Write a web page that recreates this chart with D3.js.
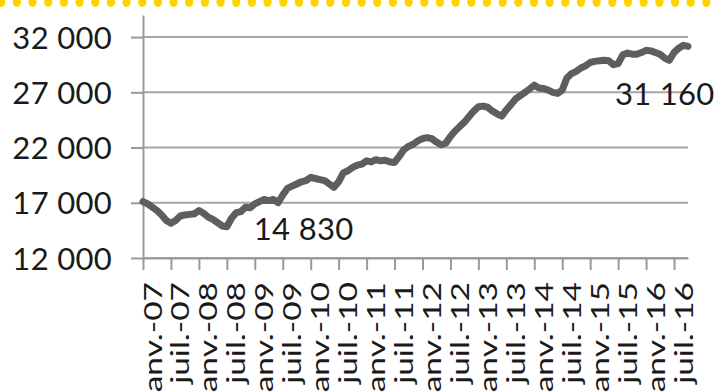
<!DOCTYPE html>
<html>
<head>
<meta charset="utf-8">
<script src="https://cdn.jsdelivr.net/npm/d3@7/dist/d3.min.js"></script>
<style>
  html, body { margin: 0; padding: 0; background: #ffffff; }
  svg { display: block; }
  text { font-family: Lato, "Open Sans", "Liberation Sans", sans-serif; fill: #1a1a1a; }
</style>
</head>
<body>
<svg id="chart" width="717" height="392"></svg>
<script>
// ---- data (monthly, janv. 2007 -> oct. 2016) ----
const startYear = 2007;
const values = [
  17100, 16900, 16600, 16300, 15900, 15400, 15150, 15400, 15800, 15900, 15950, 16000,
  16300, 16050, 15700, 15500, 15200, 14900, 14830, 15600, 16100, 16200, 16600, 16550,
  16900, 17100, 17300, 17200, 17300, 17000, 17700, 18300, 18500, 18700, 18900, 19000,
  19300, 19200, 19100, 19000, 18700, 18400, 18900, 19700, 19900, 20200, 20400, 20500,
  20800, 20700, 20900, 20800, 20850, 20700, 20650, 21200, 21800, 22100, 22300, 22600,
  22800, 22900, 22800, 22500, 22250, 22400, 23000, 23500, 23900, 24300, 24800, 25300,
  25700, 25750, 25650, 25300, 25050, 24850, 25400, 25900, 26400, 26700, 27000, 27300,
  27650, 27400, 27350, 27200, 27000, 26900, 27200, 28300, 28700, 28900, 29200, 29400,
  29700, 29800, 29850, 29900, 29850, 29500, 29600, 30400, 30550, 30450, 30450, 30600,
  30800, 30750, 30600, 30450, 30100, 29900, 30600, 31000, 31250, 31160
];
const xTickLabels = [
  "janv.-07", "juil.-07", "janv.-08", "juil.-08", "janv.-09", "juil.-09",
  "janv.-10", "juil.-10", "janv.-11", "juil.-11", "janv.-12", "juil.-12",
  "janv.-13", "juil.-13", "janv.-14", "juil.-14", "janv.-15", "juil.-15",
  "janv.-16", "juil.-16"
];
const yTicks = [12000, 17000, 22000, 27000, 32000];
const yDomain = [12000, 34000];
const dataLabels = [
  { index: 18, text: "14 830" },
  { index: 117, text: "31 160" }
];

// ---- layout ----
const svg = d3.select("#chart");
const pLeft = 143, pRight = 688, pTop = 15, pBottom = 258;

const x = d3.scaleLinear().domain([0, values.length - 1]).range([pLeft, pRight]);
const y = d3.scaleLinear().domain(yDomain).range([pBottom, pTop]);

const fr = d3.formatLocale({ decimal: ",", thousands: " ", grouping: [3], currency: ["", " €"] });
const fmt = fr.format(",.0f");

// top yellow dotted border
const dotsX = d3.range(1.2, 717 + 8, 15.67);
svg.append("g").selectAll("ellipse").data(dotsX).join("ellipse")
  .attr("cx", d => d).attr("cy", 2.2).attr("rx", 4.1).attr("ry", 4.8)
  .attr("fill", "#ffd200");

// gridlines
svg.append("g").selectAll("line").data(yTicks).join("line")
  .attr("x1", pLeft).attr("x2", pRight)
  .attr("y1", d => y(d)).attr("y2", d => y(d))
  .attr("stroke", "#a6a6a6").attr("stroke-width", 2);

// y axis
const yAxis = svg.append("g").attr("transform", `translate(${pLeft},0)`)
  .call(d3.axisLeft(y).tickValues(yTicks).tickSize(12).tickSizeOuter(0).tickPadding(19).tickFormat(fmt));
yAxis.select(".domain").attr("stroke", "#999999").attr("stroke-width", 2);
yAxis.selectAll(".tick line").attr("stroke", "#999999").attr("stroke-width", 2);
yAxis.selectAll("text").attr("font-size", 31).attr("fill", "#1a1a1a").attr("dy", "0.36em")
  .attr("letter-spacing", 0.3);

// x axis
const xTickVals = xTickLabels.map((d, i) => i * 6);
const xAxis = svg.append("g").attr("transform", `translate(0,${pBottom})`)
  .call(d3.axisBottom(x).tickValues(xTickVals).tickSize(12).tickSizeOuter(0)
    .tickFormat((d, i) => xTickLabels[i]));
xAxis.select(".domain").attr("stroke", "#999999").attr("stroke-width", 2);
xAxis.selectAll(".tick line").attr("stroke", "#999999").attr("stroke-width", 2);
xAxis.selectAll("text")
  .attr("font-size", 25)
  .attr("fill", "#1a1a1a")
  .attr("text-anchor", "end")
  .attr("y", 0).attr("dy", "0.36em")
  .attr("transform", "translate(9,24) rotate(-90) scale(1.34,1)");

// line
const line = d3.line().x((d, i) => x(i)).y(d => y(d)).curve(d3.curveLinear);
svg.append("path").datum(values)
  .attr("d", line)
  .attr("fill", "none")
  .attr("stroke", "#5e5e5e")
  .attr("stroke-width", 7)
  .attr("stroke-linejoin", "round")
  .attr("stroke-linecap", "round");

// data labels
const lblOffsets = [[27, 13.5], [-73, 59]];
svg.append("g").selectAll("text").data(dataLabels).join("text")
  .attr("x", (d, i) => x(d.index) + lblOffsets[i][0])
  .attr("y", (d, i) => y(values[d.index]) + lblOffsets[i][1])
  .attr("font-size", 31)
  .attr("letter-spacing", 0.3)
  .text(d => d.text);
</script>
</body>
</html>
